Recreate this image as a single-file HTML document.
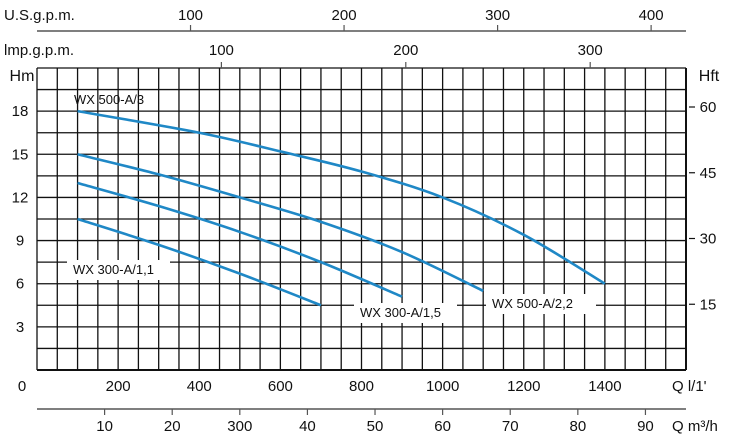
<!DOCTYPE html>
<html><head><meta charset="utf-8"><style>
html,body{margin:0;padding:0;background:#fff;}
svg{display:block;font-family:"Liberation Sans",sans-serif;}
text{fill:#111;}
</style></head><body>
<svg id="c" width="734" height="438" viewBox="0 0 734 438"></svg>
<script>
const qTicks=[0,200,400,600,800,1000,1200,1400];
const m3Ticks=[10,20,30,40,50,60,70,80,90];
const m3Labels=["10","20","300","40","50","60","70","80","90"];
const usTicks=[100,200,300,400];
const impTicks=[100,200,300];
const hmTicks=[3,6,9,12,15,18];
const ftTicks=[15,30,45,60];
const names=["WX 500-A/3","WX 500-A/2,2","WX 300-A/1,5","WX 300-A/1,1"];
const q500_3=[100,400,600,800,1000,1200,1400];
const h500_3=[18,16.5,15.2,13.8,12.0,9.4,6.0];
const q500_22=[100,300,500,700,900,1100];
const h500_22=[15,13.6,12,10.3,8.2,5.5];
const q300_15=[100,300,500,700,900];
const h300_15=[13,11.4,9.6,7.5,5.1];
const q300_11=[100,300,500,700];
const h300_11=[10.5,8.7,6.7,4.5];

const X0=37,X1=686,Y0=370,YT=68;
const xs=q=>X0+q*(X1-X0)/1600;
const ys=h=>Y0-h*(Y0-YT)/21;
const NS="http://www.w3.org/2000/svg";
const svg=document.getElementById('c');
function el(t,a,p){const e=document.createElementNS(NS,t);for(const k in a)e.setAttribute(k,a[k]);(p||svg).appendChild(e);return e;}
function txt(x,y,s,anchor,size){const t=el('text',{x:x,y:y,'text-anchor':anchor||'middle','font-size':size||15});t.textContent=s;return t;}

const g=el('g',{});


for(let i=0;i<=32;i++){el('line',{x1:xs(i*50),x2:xs(i*50),y1:YT,y2:Y0,stroke:'#111','stroke-width':1.3},g);}
for(let j=0;j<=14;j++){el('line',{x1:X0,x2:X1,y1:ys(j*1.5),y2:ys(j*1.5),stroke:'#111','stroke-width':1.3},g);}
el('line',{x1:X0,x2:X1,y1:Y0,y2:Y0,stroke:'#111','stroke-width':2},g);
el('line',{x1:X1,x2:X1,y1:YT,y2:Y0,stroke:'#111','stroke-width':2},g);

let t=txt(22,81,'Hm','middle',16);


hmTicks.forEach(h=>{const e=txt(20,ys(h)+5,String(h));

});
t=txt(709,81,'Hft','middle',16);


ftTicks.forEach(f=>{const y=ys(f*0.3048);el('line',{x1:689,x2:695,y1:y,y2:y,stroke:'#111','stroke-width':1.2});
const e=txt(708,y+5,String(f));

});
qTicks.forEach(q=>{const e=txt(q===0?22:xs(q),391,String(q));

});
t=txt(672,391,"Q  l/1'",'start');


el('line',{x1:X0,x2:X1,y1:409,y2:409,stroke:'#555','stroke-width':1.5});
m3Ticks.forEach((m,i)=>{const x=xs(m*1000/60);el('line',{x1:x,x2:x,y1:409,y2:415,stroke:'#555','stroke-width':1.2});
const e=txt(x,431,m3Labels[i]);

});
t=txt(672,431,'Q  m³/h','start');


el('line',{x1:X0,x2:X1,y1:31,y2:31,stroke:'#555','stroke-width':1.5});
usTicks.forEach(u=>{const x=xs(u*3.785);el('line',{x1:x,x2:x,y1:25,y2:31,stroke:'#555','stroke-width':1.2});
const e=txt(x,20,String(u));

});
t=txt(4,20,'U.S.g.p.m.','start');


impTicks.forEach(u=>{const x=xs(u*4.546);el('line',{x1:x,x2:x,y1:62,y2:68,stroke:'#555','stroke-width':1.2});
const e=txt(x,55,String(u));

});
t=txt(4,55,'lmp.g.p.m.','start');



function smooth(pts){let d='M'+pts[0][0]+','+pts[0][1];
for(let i=0;i<pts.length-1;i++){const p0=pts[Math.max(0,i-1)],p1=pts[i],p2=pts[i+1],p3=pts[Math.min(pts.length-1,i+2)];
const c1=[p1[0]+(p2[0]-p0[0])/6,p1[1]+(p2[1]-p0[1])/6],c2=[p2[0]-(p3[0]-p1[0])/6,p2[1]-(p3[1]-p1[1])/6];
d+=' C'+c1[0]+','+c1[1]+' '+c2[0]+','+c2[1]+' '+p2[0]+','+p2[1];}
return d;}
function curve(qs,hs,name){const p=el('path',{d:smooth(qs.map((q,i)=>[xs(q),ys(hs[i])])),fill:'none',stroke:'#1f88c6','stroke-width':2.6});

}
curve(q500_3,h500_3,'curve-wx500-a3');
curve(q500_22,h500_22,'curve-wx500-a22');
curve(q300_15,h300_15,'curve-wx300-a15');
curve(q300_11,h300_11,'curve-wx300-a11');

function label(x,y,w,s,name,bg){if(bg)el('rect',{x:x-6,y:y-14,width:w,height:20,fill:'#fff'});
const e=txt(x,y,s,'start',13);

}
label(74,104,0,names[0],'label-wx500-a3',false);
label(73,274,103,names[3],'label-wx300-a11',true);
label(360,317,103,names[2],'label-wx300-a15',true);
label(492,308,110,names[1],'label-wx500-a22',true);
</script>
</body></html>
